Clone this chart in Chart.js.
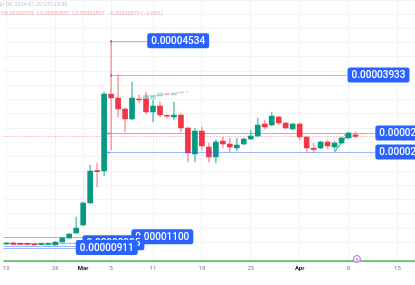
<!DOCTYPE html>
<html>
<head>
<meta charset="utf-8">
<script src="https://cdn.jsdelivr.net/npm/chart.js@4.4.1/dist/chart.umd.min.js"></script>
<style>
  html, body { margin: 0; padding: 0; background: #fff; overflow: hidden; }
  #wrap { width: 415px; height: 285px; position: relative; }
</style>
</head>
<body>
<div id="wrap"><canvas id="chart-velas"></canvas></div>
<script>
// Precios en unidades de 0.00000001
const UNIDAD = 1e-8;

// Velas diarias, 19 feb -> 9 abr 2024 (indice 0 = 19 feb)
const aperturas = [972, 990, 985, 968, 972, 960, 965, 955, 1007, 1077, 1165, 1305, 1690, 2260, 2251, 3600, 3530, 3337, 3162, 3512,
                   3512, 3285, 3390, 3220, 3197, 3232, 3004, 2549, 2952, 2672, 2497, 2777, 2724, 2654, 2724, 2812, 2864, 3075, 3057, 3197,
                   3092, 2987, 3075, 2847, 2645, 2654, 2759, 2672, 2742, 2829, 2885];
const maximos  = [1000, 1000, 995, 975, 985, 990, 990, 1015, 1090, 1160, 1445, 1708, 2356, 2390, 3635, 4534, 3933, 3360, 3810, 3583,
                   3635, 3495, 3460, 3240, 3460, 3250, 3022, 3004, 3022, 2742, 2794, 2847, 2829, 2829, 2829, 2969, 3180, 3145, 3285, 3215,
                   3110, 3092, 3092, 2864, 2742, 2777, 2794, 2777, 2847, 2934, 2932];
const minimos  = [960, 955, 960, 955, 950, 955, 958, 950, 1000, 1070, 1150, 1290, 1680, 1971, 2163, 2619, 3197, 2934, 3145, 3442,
                   3250, 3110, 3197, 3180, 3145, 2934, 2409, 2409, 2620, 2409, 2392, 2654, 2584, 2602, 2707, 2800, 2847, 2987, 3040, 3057,
                   2987, 2969, 2794, 2584, 2567, 2637, 2637, 2619, 2724, 2812, 2832];
const cierres  = [990, 965, 965, 965, 955, 980, 978, 1007, 1077, 1147, 1253, 1690, 2251, 2240, 3600, 3530, 3337, 3162, 3530, 3495,
                   3285, 3390, 3232, 3210, 3232, 3004, 2567, 2952, 2689, 2497, 2759, 2724, 2672, 2707, 2812, 2864, 3057, 3022, 3215, 3092,
                   3004, 3075, 2847, 2654, 2630, 2759, 2689, 2742, 2829, 2917, 2857];

// Velas "fantasma" de la proyeccion (dias 20-25)
const fantasmaDias = [20, 21, 22, 23, 24, 25];
const fantasmaAbre = [3495, 3512, 3565, 3618, 3583, 3635];
const fantasmaCierra = [3583, 3583, 3618, 3583, 3618, 3618];

// Eje de tiempo
const tickDias = [0, 7, 11, 15, 21, 28, 35, 42, 49, 56];
const tickEtiquetas = ['19', '26', 'Mar', '5', '11', '18', '25', 'Apr', '8', '15'];

// Lineas horizontales dibujadas: precio, dia de inicio, dia donde empieza la etiqueta
const nivelesPrecio = [4534, 3933, 2917, 2584];
const nivelesDesde  = [15, 15, 14.6, 14.6];
const nivelesHasta  = [20.17, 48.86, 52.84, 52.84];
const nivelesBajos  = [1100, 995, 937, 911];
const nivelesBajosHasta = [17.9, 10.9, 10.2, 9.94];
const etiquetasBajas = [true, true, false, true];

const precioActual = 2857;
const lineaVerde = 674;
const flecha = [[47.0, 2584], [48.9, 2899]];
const proyeccion = [[19.3, 3530], [26.4, 3650]];

const VERDE = '#089981';
const ROJO = '#f23645';

const idx = aperturas.map((_, i) => i);
const colorVela = idx.map(i => cierres[i] >= aperturas[i] ? VERDE : ROJO);
const colorMecha = idx.map(i => cierres[i] >= aperturas[i] ? 'rgba(8,153,129,0.55)' : 'rgba(242,54,69,0.45)');

function fmt(v) { return (v * UNIDAD).toFixed(8); }

function etiqueta(ctx, texto, px, py) {
    ctx.font = '500 10px Roboto';
    const w = ctx.measureText(texto).width + 8;
    ctx.fillStyle = '#2962ff';
    ctx.beginPath();
    ctx.roundRect(px, py - 7.5, w, 15, 2.5);
    ctx.fill();
    ctx.fillStyle = '#ffffff';
    ctx.textBaseline = 'middle';
    ctx.textAlign = 'left';
    ctx.fillText(texto, px + 4, py + 0.5);
}

const dibujos = {
    id: 'dibujos',
    beforeDatasetsDraw(chart) {
        const { ctx, chartArea, scales: { x, y } } = chart;
        ctx.save();
        // linea punteada del precio actual
        const yp = Math.round(y.getPixelForValue(precioActual)) + 0.5;
        ctx.strokeStyle = 'rgba(242,54,69,0.55)';
        ctx.lineWidth = 1;
        ctx.setLineDash([1, 2]);
        ctx.beginPath(); ctx.moveTo(chartArea.left, yp); ctx.lineTo(chartArea.right, yp); ctx.stroke();
        ctx.setLineDash([]);
        // linea de proyeccion
        ctx.strokeStyle = 'rgba(120,123,134,0.35)';
        ctx.setLineDash([3, 2]);
        ctx.beginPath();
        ctx.moveTo(x.getPixelForValue(proyeccion[0][0]), y.getPixelForValue(proyeccion[0][1]));
        ctx.lineTo(x.getPixelForValue(proyeccion[1][0]), y.getPixelForValue(proyeccion[1][1]));
        ctx.stroke();
        ctx.restore();
    },
    afterDatasetsDraw(chart) {
        const { ctx, chartArea, scales: { x, y } } = chart;
        ctx.save();
        ctx.lineWidth = 1;
        ctx.strokeStyle = 'rgba(41,98,255,0.45)';

        // niveles superiores
        nivelesPrecio.forEach((p, i) => {
            const py = Math.round(y.getPixelForValue(p)) + 0.5;
            const x0 = x.getPixelForValue(nivelesDesde[i]);
            const x1 = x.getPixelForValue(nivelesHasta[i]);
            ctx.beginPath(); ctx.moveTo(x0, py); ctx.lineTo(x1, py); ctx.stroke();
            ctx.fillStyle = 'rgba(41,98,255,0.7)';
            ctx.fillRect(x0 - 1, py - 1, 2, 2);
        });
        // niveles inferiores
        nivelesBajos.forEach((p, i) => {
            const py = Math.round(y.getPixelForValue(p)) + 0.5;
            ctx.beginPath(); ctx.moveTo(chartArea.left, py); ctx.lineTo(x.getPixelForValue(nivelesBajosHasta[i]), py); ctx.stroke();
        });

        // linea verde inferior
        const yv = y.getPixelForValue(lineaVerde);
        ctx.strokeStyle = '#4caf50';
        ctx.lineWidth = 1.5;
        ctx.beginPath(); ctx.moveTo(chartArea.left, yv); ctx.lineTo(chartArea.right, yv); ctx.stroke();

        // flecha de tendencia
        const ax = x.getPixelForValue(flecha[0][0]), ay = y.getPixelForValue(flecha[0][1]);
        const bx = x.getPixelForValue(flecha[1][0]), by = y.getPixelForValue(flecha[1][1]);
        ctx.strokeStyle = VERDE;
        ctx.lineWidth = 1;
        ctx.beginPath(); ctx.moveTo(ax, ay); ctx.lineTo(bx, by); ctx.stroke();
        const ang = Math.atan2(by - ay, bx - ax);
        ctx.beginPath();
        ctx.moveTo(bx - 4 * Math.cos(ang - 0.6), by - 4 * Math.sin(ang - 0.6));
        ctx.lineTo(bx, by);
        ctx.lineTo(bx - 4 * Math.cos(ang + 0.6), by - 4 * Math.sin(ang + 0.6));
        ctx.stroke();

        // etiquetas
        nivelesPrecio.forEach((p, i) => {
            etiqueta(ctx, fmt(p), x.getPixelForValue(nivelesHasta[i]), y.getPixelForValue(p));
        });
        nivelesBajos.forEach((p, i) => {
            if (etiquetasBajas[i]) etiqueta(ctx, fmt(p), x.getPixelForValue(nivelesBajosHasta[i]), y.getPixelForValue(p));
        });

        // marcador de evento
        const mx = x.getPixelForValue(50.2), my = chartArea.bottom - 3;
        ctx.fillStyle = '#ffffff';
        ctx.strokeStyle = '#ba68c8';
        ctx.beginPath(); ctx.arc(mx, my, 3.5, 0, Math.PI * 2); ctx.fill(); ctx.stroke();
        ctx.fillStyle = '#ba68c8';
        ctx.font = '5px Roboto';
        ctx.textAlign = 'center'; ctx.textBaseline = 'middle';
        ctx.fillText('₿', mx, my + 0.5);
        ctx.restore();
    },
    afterDraw(chart) {
        const { ctx } = chart;
        ctx.save();
        ctx.font = '5.5px Roboto';
        ctx.textBaseline = 'middle';
        ctx.textAlign = 'left';
        ctx.fillStyle = 'rgba(120,123,134,0.45)';
        ctx.fillText('Apr 09, 2024 01:29 UTC+3:30', -4, 5);
        ctx.fillStyle = 'rgba(242,54,69,0.45)';
        ctx.fillText('H' + fmt(2932) + '  L' + fmt(2832) + '  C' + fmt(2857) + '  \u22120.00000079 (\u22122.66%)', 1, 14);
        ctx.restore();
    }
};

new Chart(document.getElementById('chart-velas'), {
    type: 'bar',
    data: {
        datasets: [
            {
                label: 'cuerpos',
                data: idx.map(i => ({ x: i, y: [Math.min(aperturas[i], cierres[i]), Math.max(aperturas[i], cierres[i])] })),
                backgroundColor: colorVela,
                barThickness: 5,
                minBarLength: 1,
                grouped: false,
                order: 1
            },
            {
                label: 'mechas',
                data: idx.map(i => ({ x: i, y: [minimos[i], maximos[i]] })),
                backgroundColor: colorMecha,
                barThickness: 1,
                grouped: false,
                order: 2
            },
            {
                label: 'fantasma',
                data: fantasmaDias.map((d, i) => ({ x: d, y: [Math.min(fantasmaAbre[i], fantasmaCierra[i]), Math.max(fantasmaAbre[i], fantasmaCierra[i])] })),
                backgroundColor: fantasmaDias.map((d, i) => fantasmaCierra[i] >= fantasmaAbre[i] ? 'rgba(8,153,129,0.3)' : 'rgba(242,54,69,0.25)'),
                barThickness: 5,
                minBarLength: 1,
                grouped: false,
                order: 3
            }
        ]
    },
    options: {
        responsive: true,
        maintainAspectRatio: false,
        animation: false,
        layout: { padding: 0 },
        plugins: { legend: { display: false }, tooltip: { enabled: false } },
        scales: {
            x: {
                type: 'linear',
                min: -0.426,
                max: 58.52,
                offset: false,
                grid: { color: '#f0f3fa', offset: false, drawTicks: false },
                border: { display: false },
                afterBuildTicks: s => { s.ticks = tickDias.map(v => ({ value: v })); },
                afterFit: s => { s.height = 23; },
                ticks: {
                    padding: 3,
                    maxRotation: 0,
                    autoSkip: false,
                    callback: (v, i) => tickEtiquetas[i],
                    color: c => ['Mar', 'Apr'].includes(tickEtiquetas[c.index]) ? '#131722' : '#787b86',
                    font: c => ({ family: 'Roboto', size: 6, weight: ['Mar', 'Apr'].includes(tickEtiquetas[c.index]) ? 'bold' : 'normal' })
                }
            },
            y: {
                min: 657,
                max: 5247,
                grid: { color: '#f3f4f7', drawTicks: false },
                border: { display: false },
                ticks: { display: false, stepSize: 250 },
                afterFit: s => { s.width = 0; }
            }
        }
    },
    plugins: [dibujos]
});
</script>
</body>
</html>
